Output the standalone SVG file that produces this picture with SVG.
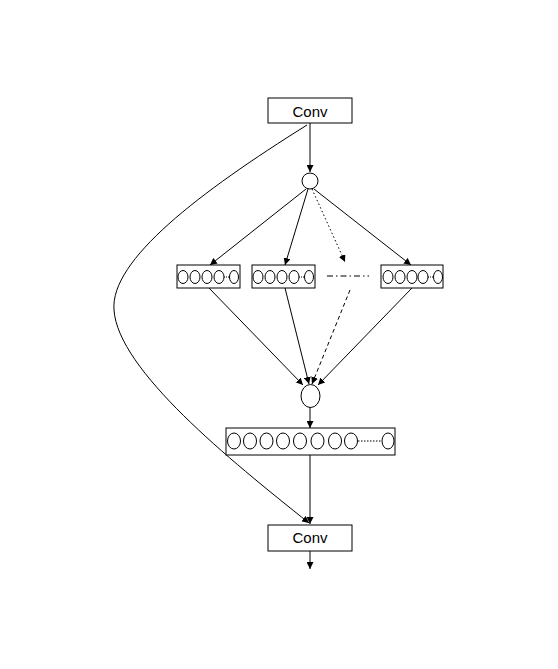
<svg xmlns="http://www.w3.org/2000/svg" width="558" height="669" viewBox="0 0 558 669">
<style>
.box{fill:#fff;stroke:#000;stroke-width:1}
.c{fill:none;stroke:#000;stroke-width:1}
.ln{fill:none;stroke:#000;stroke-width:1}
.t{font-family:"Liberation Sans",Arial,sans-serif;font-size:15px;fill:#000}
</style>
<defs>
<marker id="ah" viewBox="0 0 10 10" refX="10" refY="5" markerWidth="7" markerHeight="7" markerUnits="userSpaceOnUse" orient="auto">
<path d="M0,0 L10,5 L0,10 z" fill="#000"/>
</marker>
</defs>
<rect width="558" height="669" fill="#fff"/>
<g id="connectors">
<path class="ln" d="M310,123 L310,172" marker-end="url(#ah)"/>
<path class="ln" d="M307,125 C200,192 110,260 114,310 C118,370 230,460 309,523" marker-end="url(#ah)"/>
<path class="ln" d="M306,189 L210,265" marker-end="url(#ah)"/>
<path class="ln" d="M308,189 L285,265" marker-end="url(#ah)"/>
<path class="ln" d="M312,189 L345,262" stroke-dasharray="1.5,2.5" marker-end="url(#ah)"/>
<path class="ln" d="M314,189 L411,265" marker-end="url(#ah)"/>
<path class="ln" d="M327,276 L369,276" stroke-dasharray="6,3,1.5,3"/>
<path class="ln" d="M209,288 L303,385" marker-end="url(#ah)"/>
<path class="ln" d="M285,288 L309,384" marker-end="url(#ah)"/>
<path class="ln" d="M350,290 L312,384" stroke-dasharray="4,3" marker-end="url(#ah)"/>
<path class="ln" d="M412,288 L318,385" marker-end="url(#ah)"/>
<path class="ln" d="M310,407 L310,428" marker-end="url(#ah)"/>
<path class="ln" d="M310,455 L310,524" marker-end="url(#ah)"/>
<path class="ln" d="M310,551 L310,569" marker-end="url(#ah)"/>
</g>
<g id="conv-top">
<rect class="box" x="268" y="98" width="84" height="25"/>
<text class="t" x="310" y="117" text-anchor="middle">Conv</text>
</g>
<g id="split">
<circle class="c" cx="310" cy="181" r="8"/>
</g>
<g id="group1">
<rect class="box" x="177" y="265" width="63" height="23"/>
<ellipse class="c" cx="183" cy="277" rx="5" ry="6.5"/>
<ellipse class="c" cx="195" cy="277" rx="5" ry="6.5"/>
<ellipse class="c" cx="207" cy="277" rx="5" ry="6.5"/>
<ellipse class="c" cx="219" cy="277" rx="5" ry="6.5"/>
<ellipse class="c" cx="234" cy="277" rx="4.5" ry="6.5"/>
<line class="ln" x1="224" y1="277" x2="229" y2="277" stroke-dasharray="1,1"/>
</g>
<g id="group2">
<rect class="box" x="252" y="265" width="63" height="23"/>
<ellipse class="c" cx="258" cy="277" rx="5" ry="6.5"/>
<ellipse class="c" cx="270" cy="277" rx="5" ry="6.5"/>
<ellipse class="c" cx="282" cy="277" rx="5" ry="6.5"/>
<ellipse class="c" cx="294" cy="277" rx="5" ry="6.5"/>
<ellipse class="c" cx="309" cy="277" rx="4.5" ry="6.5"/>
<line class="ln" x1="299" y1="277" x2="304" y2="277" stroke-dasharray="1,1"/>
</g>
<g id="group4">
<rect class="box" x="381" y="265" width="62" height="23"/>
<ellipse class="c" cx="388" cy="277" rx="5" ry="6.5"/>
<ellipse class="c" cx="400" cy="277" rx="5" ry="6.5"/>
<ellipse class="c" cx="412" cy="277" rx="5" ry="6.5"/>
<ellipse class="c" cx="423" cy="277" rx="5" ry="6.5"/>
<ellipse class="c" cx="438" cy="277" rx="4.5" ry="6.5"/>
<line class="ln" x1="428" y1="277" x2="433" y2="277" stroke-dasharray="1,1"/>
</g>
<g id="merge">
<ellipse class="c" cx="310.5" cy="396" rx="9.5" ry="11.5"/>
</g>
<g id="concat">
<rect class="box" x="226" y="428" width="169" height="27"/>
<ellipse class="c" cx="234" cy="441" rx="6.5" ry="8"/>
<ellipse class="c" cx="250" cy="441" rx="6.5" ry="8"/>
<ellipse class="c" cx="266.5" cy="441" rx="6.5" ry="8"/>
<ellipse class="c" cx="283" cy="441" rx="6.5" ry="8"/>
<ellipse class="c" cx="300" cy="441" rx="6.5" ry="8"/>
<ellipse class="c" cx="317.5" cy="441" rx="6.5" ry="8"/>
<ellipse class="c" cx="335" cy="441" rx="6.5" ry="8"/>
<ellipse class="c" cx="351" cy="441" rx="6.5" ry="8"/>
<ellipse class="c" cx="388" cy="441" rx="6" ry="8"/>
<line class="ln" x1="358" y1="441" x2="382" y2="441" stroke-dasharray="1.5,1.5"/>
</g>
<g id="conv-bottom">
<rect class="box" x="268" y="525" width="84" height="26"/>
<text class="t" x="310" y="543" text-anchor="middle">Conv</text>
</g>
</svg>
